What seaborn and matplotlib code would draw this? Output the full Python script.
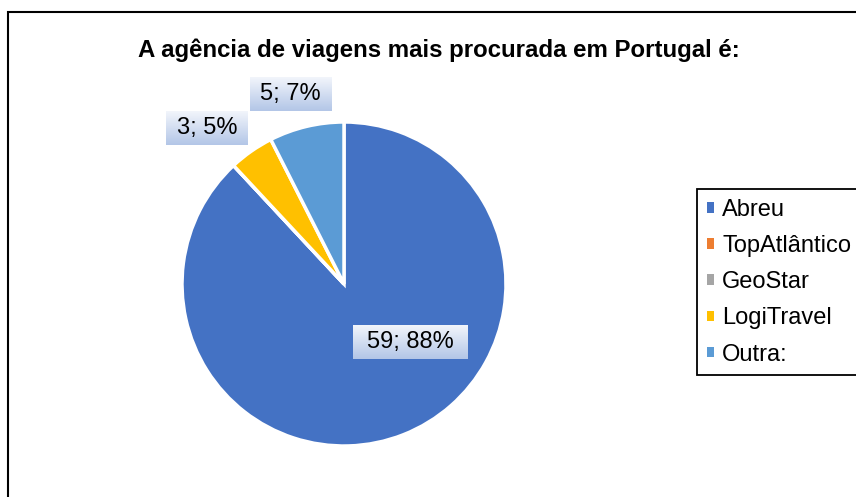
import matplotlib
matplotlib.use("Agg")
import matplotlib.pyplot as plt
import matplotlib.patches as mpatches
import numpy as np
import seaborn as sns

# Dados
agencias = ["Abreu", "TopAtlântico", "GeoStar", "LogiTravel", "Outra:"]
respostas = [59, 0, 0, 3, 5]
percentagens = [88, 0, 0, 5, 7]
cores = ["#4472C4", "#ED7D31", "#A5A5A5", "#FFC000", "#5B9BD5"]
titulo = "A agência de viagens mais procurada em Portugal é:"

sns.set_theme(style="white")
plt.rcParams["font.family"] = ["Liberation Sans", "DejaVu Sans"]
plt.rcParams["text.color"] = "black"

W, H = 856, 497
fig = plt.figure(figsize=(W / 100, H / 100), dpi=100)

# eixo do gráfico circular (centro ~ (344, 284) px, raio ~162 px)
cx, cy, r = 344, 284, 162
ax = fig.add_axes([(cx - r) / W, (H - cy - r) / H, 2 * r / W, 2 * r / H])
wedges, _ = ax.pie(respostas, colors=cores, startangle=90, counterclock=False,
                   radius=1, wedgeprops=dict(edgecolor="white", linewidth=2.5))
ax.axis("off")

# rótulos de dados "valor; percentagem"
pos_rotulos = {0: (0.41, -0.36), 3: (-0.846, 0.963), 4: (-0.33, 1.17)}
textos = []
for i, (x, y) in pos_rotulos.items():
    txt = f"{respostas[i]}; {percentagens[i]}%"
    t = ax.text(x, y, txt, ha="center", va="center", fontsize=17, color="black", zorder=5,
                bbox=dict(boxstyle="square,pad=0.1", facecolor="none", edgecolor="none"))
    textos.append(t)

fig.text(439 / W, 1 - 50 / H, titulo, ha="center", va="center",
         fontsize=17.3, fontweight="bold", color="black")

# legenda com marcadores quadrados
handles = [mpatches.Patch(facecolor=c, edgecolor="none") for c in cores]
leg = fig.legend(handles, agencias, loc="upper left",
                 bbox_to_anchor=(697 / W, 1 - 189 / H), fontsize=17,
                 frameon=True, fancybox=False, framealpha=1,
                 edgecolor="black", labelcolor="black",
                 handlelength=0.32, handleheight=0.32, handletextpad=0.33,
                 labelspacing=0.6, borderpad=0.42, borderaxespad=0)
leg.get_frame().set_linewidth(1.3)

# fundo em degradê dos rótulos
fig.canvas.draw()
renderer = fig.canvas.get_renderer()
grad = np.linspace(0, 1, 64).reshape(-1, 1)
cmap = matplotlib.colors.LinearSegmentedColormap.from_list("rot", ["#f2f5fb", "#b3c6e7"])
inv = ax.transData.inverted()
for t in textos:
    ext = t.get_bbox_patch().get_window_extent(renderer)
    (x0, y0), (x1, y1) = inv.transform([(ext.x0, ext.y0), (ext.x1, ext.y1)])
    ax.imshow(grad, extent=(x0, x1, y0, y1), cmap=cmap, aspect="auto",
              origin="upper", zorder=4, clip_on=False)
ax.set_xlim(-1, 1)
ax.set_ylim(-1, 1)
ax.set_aspect("equal")

# moldura da área do gráfico (cortada à direita e em baixo)
fig.add_artist(mpatches.Rectangle((8 / W, -0.1), 1.2, 1.1 - 12 / H, transform=fig.transFigure,
                                  fill=False, edgecolor="black", linewidth=1.5))

fig.savefig("out.png", dpi=100)
